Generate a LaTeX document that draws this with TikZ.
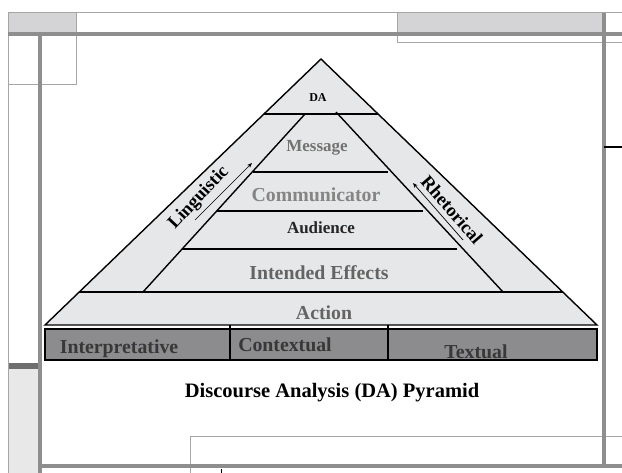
\documentclass[tikz,border=0pt]{standalone}
\usepackage{fontspec}
\setmainfont{Liberation Serif}
\usetikzlibrary{arrows.meta}
\definecolor{framegray}{HTML}{8E8E8E}
\definecolor{thingray}{HTML}{A6A6A6}
\definecolor{boxfill}{HTML}{D4D4D6}
\definecolor{darkbar}{HTML}{6E6E6E}
\definecolor{lightfill}{HTML}{E8E8E8}
\definecolor{trifill}{HTML}{E6E7E8}
\definecolor{labgray}{HTML}{646464}
\definecolor{msggray}{HTML}{737373}
\definecolor{commgray}{HTML}{858585}
\definecolor{bandfill}{HTML}{8C8C8E}
\definecolor{bandtext}{HTML}{383838}
\tikzset{
  framethick/.style={draw=framegray, line width=4.5pt},
  framethin/.style={draw=thingray, line width=1pt},
  pyrline/.style={draw=black, line width=1.4pt},
  lab/.style={font=\bfseries\fontsize{19.8}{20}\selectfont, anchor=base, inner sep=0pt},
  smalllab/.style={font=\bfseries\fontsize{17}{18}\selectfont, anchor=base, inner sep=0pt},
  sidelab/.style={font=\bfseries\fontsize{18.5}{19}\selectfont, anchor=center, inner sep=0pt},
  sidearrow/.style={draw=black, line width=0.7pt, -{Stealth[length=5pt,width=4pt]}}
}
\begin{document}
\begin{tikzpicture}[x=1pt,y=-1pt]
\useasboundingbox (0,0) rectangle (622,473);
% ---------- background frame ----------
\fill[boxfill] (8,13) rectangle (76,33);
\fill[boxfill] (397,13) rectangle (604,33);
\fill[lightfill] (8,369) rectangle (38,473);
\fill[darkbar] (8,363) rectangle (38,369);
\draw[framethin] (8,13) -- (622,13);
\draw[framethin] (8,13) -- (8,473);
\draw[framethin] (76,13) -- (76,85) -- (8,85);
\draw[framethin] (397,13) -- (397,43) -- (622,43);
\draw[framethin] (190,473) -- (190,437) -- (622,437);
\draw[framethick] (8,34) -- (622,34);
\draw[framethick] (40,34) -- (40,473);
\draw[framethick] (604,13) -- (604,468);
\draw[framethick] (40,466) -- (622,466);
\draw[black, line width=2pt] (604,147) -- (622,147);
\draw[black, line width=0.8pt] (221,469) -- (221,473);
% ---------- pyramid ----------
\coordinate (apex) at (321,59);
\coordinate (bl) at (45,325);
\coordinate (br) at (597,325);
\coordinate (l1) at (264,114);
\coordinate (r1) at (378,114);
\coordinate (il) at (305,114);
\coordinate (ir) at (336,112);
\coordinate (ilb) at (143,292);
\coordinate (irb) at (503,292);
\coordinate (l5) at (79,292);
\coordinate (r5) at (563,292);
\fill[trifill] (bl) -- (apex) -- (br) -- cycle;
\draw[pyrline, line join=miter] (bl) -- (apex) -- (br) -- cycle;
\draw[pyrline] (l1) -- (r1);
\draw[pyrline] (il) -- (ilb);
\draw[pyrline] (ir) -- (irb);
\coordinate (m1a) at (253,172); \coordinate (m1b) at (388,172);
\coordinate (m2a) at (217,211); \coordinate (m2b) at (423,211);
\coordinate (m3a) at (182,249); \coordinate (m3b) at (457,249);
\draw[pyrline] (m1a) -- (m1b);
\draw[pyrline] (m2a) -- (m2b);
\draw[pyrline] (m3a) -- (m3b);
\draw[pyrline] (l5) -- (r5);
% labels inside
\node[font=\bfseries\fontsize{12}{13}\selectfont, anchor=base, inner sep=0pt] (da) at (318,102) {DA};
\node[smalllab, text=msggray] (msg) at (317,152) {Message};
\node[lab, text=commgray] (comm) at (316,202) {Communicator};
\node[smalllab, text=black!85] (aud) at (321,234) {Audience};
\node[lab, text=labgray] (ie) at (319,280) {Intended Effects};
\node[lab, text=labgray] (act) at (324,320) {Action};
% side labels and arrows
\node[sidelab, rotate=47] (ling) at (199,198) {Linguistic};
\node[sidelab, rotate=-49] (rhet) at (452,210) {Rhetorical};
\coordinate (la1) at (195,220); \coordinate (la2) at (252,163);
\coordinate (ra1) at (463,240); \coordinate (ra2) at (413,183);
\draw[sidearrow] (la1) -- (la2);
\draw[sidearrow] (ra1) -- (ra2);
% ---------- bottom band ----------
\coordinate (b1) at (45,329);
\coordinate (b2) at (597,360);
\draw[fill=bandfill, draw=black, line width=1.6pt] (b1) rectangle (b2);
\coordinate (d1t) at (230,325); \coordinate (d1b) at (230,360);
\coordinate (d2t) at (388,325); \coordinate (d2b) at (388,360);
\draw[black, line width=1.2pt] (d1t) -- (d1b);
\draw[black, line width=1.2pt] (d2t) -- (d2b);
\node[lab, text=bandtext] (interp) at (119,354) {Interpretative};
\node[lab, text=bandtext] (ctx) at (285,352) {Contextual};
\node[lab, text=bandtext] (txt) at (476,359) {Textual};
% ---------- title ----------
\node[font=\bfseries\fontsize{20.5}{21}\selectfont, anchor=base, inner sep=0pt] (title) at (332,398) {Discourse Analysis (DA) Pyramid};
\end{tikzpicture}
\end{document}
